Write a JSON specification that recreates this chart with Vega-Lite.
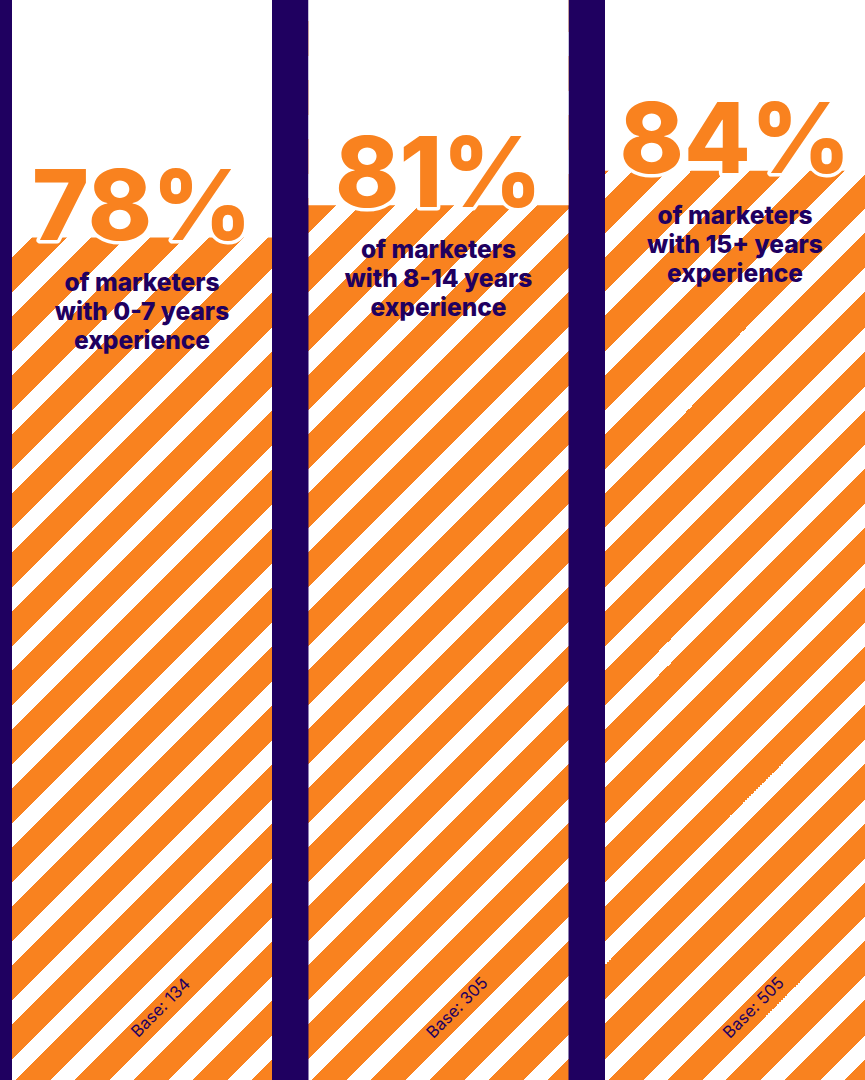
{
  "$schema": "https://vega.github.io/schema/vega-lite/v6.json",
  "width": 865,
  "height": 1080,
  "padding": 0,
  "autosize": "none",
  "background": "#1F0060",
  "config": {"view": {"stroke": null}},
  "data": {
    "values": [
      {"group": "0-7", "value": 78, "label": "78%", "sub": ["of marketers", "with 0-7 years", "experience"], "base": "Base: 134"},
      {"group": "8-14", "value": 81, "label": "81%", "sub": ["of marketers", "with 8-14 years", "experience"], "base": "Base: 305"},
      {"group": "15+", "value": 84.2, "label": "84%", "sub": ["of marketers", "with 15+ years", "experience"], "base": "Base: 505"}
    ]
  },
  "encoding": {
    "x": {
      "field": "group", "type": "nominal", "sort": null, "axis": null,
      "scale": {"paddingInner": 0.1231, "paddingOuter": 0.02024, "align": 1, "round": false}
    }
  },
  "layer": [
    {
      "mark": {
        "type": "bar",
        "fill": {
          "gradient": "linear",
          "x1": -0.011538, "y1": 0, "x2": 0.274378, "y2": 1.18765,
          "stops": [
            {"offset": 0, "color": "#FFFFFF"}, {"offset": 0.017686, "color": "#FFFFFF"}, {"offset": 0.017686, "color": "#F9821F"}, {"offset": 0.043478, "color": "#F9821F"},
            {"offset": 0.043478, "color": "#FFFFFF"}, {"offset": 0.061164, "color": "#FFFFFF"}, {"offset": 0.061164, "color": "#F9821F"}, {"offset": 0.086957, "color": "#F9821F"},
            {"offset": 0.086957, "color": "#FFFFFF"}, {"offset": 0.104643, "color": "#FFFFFF"}, {"offset": 0.104643, "color": "#F9821F"}, {"offset": 0.130435, "color": "#F9821F"},
            {"offset": 0.130435, "color": "#FFFFFF"}, {"offset": 0.148121, "color": "#FFFFFF"}, {"offset": 0.148121, "color": "#F9821F"}, {"offset": 0.173913, "color": "#F9821F"},
            {"offset": 0.173913, "color": "#FFFFFF"}, {"offset": 0.191599, "color": "#FFFFFF"}, {"offset": 0.191599, "color": "#F9821F"}, {"offset": 0.217391, "color": "#F9821F"},
            {"offset": 0.217391, "color": "#FFFFFF"}, {"offset": 0.235077, "color": "#FFFFFF"}, {"offset": 0.235077, "color": "#F9821F"}, {"offset": 0.26087, "color": "#F9821F"},
            {"offset": 0.26087, "color": "#FFFFFF"}, {"offset": 0.278556, "color": "#FFFFFF"}, {"offset": 0.278556, "color": "#F9821F"}, {"offset": 0.304348, "color": "#F9821F"},
            {"offset": 0.304348, "color": "#FFFFFF"}, {"offset": 0.322034, "color": "#FFFFFF"}, {"offset": 0.322034, "color": "#F9821F"}, {"offset": 0.347826, "color": "#F9821F"},
            {"offset": 0.347826, "color": "#FFFFFF"}, {"offset": 0.365512, "color": "#FFFFFF"}, {"offset": 0.365512, "color": "#F9821F"}, {"offset": 0.391304, "color": "#F9821F"},
            {"offset": 0.391304, "color": "#FFFFFF"}, {"offset": 0.40899, "color": "#FFFFFF"}, {"offset": 0.40899, "color": "#F9821F"}, {"offset": 0.434783, "color": "#F9821F"},
            {"offset": 0.434783, "color": "#FFFFFF"}, {"offset": 0.452469, "color": "#FFFFFF"}, {"offset": 0.452469, "color": "#F9821F"}, {"offset": 0.478261, "color": "#F9821F"},
            {"offset": 0.478261, "color": "#FFFFFF"}, {"offset": 0.495947, "color": "#FFFFFF"}, {"offset": 0.495947, "color": "#F9821F"}, {"offset": 0.521739, "color": "#F9821F"},
            {"offset": 0.521739, "color": "#FFFFFF"}, {"offset": 0.539425, "color": "#FFFFFF"}, {"offset": 0.539425, "color": "#F9821F"}, {"offset": 0.565217, "color": "#F9821F"},
            {"offset": 0.565217, "color": "#FFFFFF"}, {"offset": 0.582903, "color": "#FFFFFF"}, {"offset": 0.582903, "color": "#F9821F"}, {"offset": 0.608696, "color": "#F9821F"},
            {"offset": 0.608696, "color": "#FFFFFF"}, {"offset": 0.626382, "color": "#FFFFFF"}, {"offset": 0.626382, "color": "#F9821F"}, {"offset": 0.652174, "color": "#F9821F"},
            {"offset": 0.652174, "color": "#FFFFFF"}, {"offset": 0.66986, "color": "#FFFFFF"}, {"offset": 0.66986, "color": "#F9821F"}, {"offset": 0.695652, "color": "#F9821F"},
            {"offset": 0.695652, "color": "#FFFFFF"}, {"offset": 0.713338, "color": "#FFFFFF"}, {"offset": 0.713338, "color": "#F9821F"}, {"offset": 0.73913, "color": "#F9821F"},
            {"offset": 0.73913, "color": "#FFFFFF"}, {"offset": 0.756816, "color": "#FFFFFF"}, {"offset": 0.756816, "color": "#F9821F"}, {"offset": 0.782609, "color": "#F9821F"},
            {"offset": 0.782609, "color": "#FFFFFF"}, {"offset": 0.800295, "color": "#FFFFFF"}, {"offset": 0.800295, "color": "#F9821F"}, {"offset": 0.826087, "color": "#F9821F"},
            {"offset": 0.826087, "color": "#FFFFFF"}, {"offset": 0.843773, "color": "#FFFFFF"}, {"offset": 0.843773, "color": "#F9821F"}, {"offset": 0.869565, "color": "#F9821F"},
            {"offset": 0.869565, "color": "#FFFFFF"}, {"offset": 0.887251, "color": "#FFFFFF"}, {"offset": 0.887251, "color": "#F9821F"}, {"offset": 0.913043, "color": "#F9821F"},
            {"offset": 0.913043, "color": "#FFFFFF"}, {"offset": 0.930729, "color": "#FFFFFF"}, {"offset": 0.930729, "color": "#F9821F"}, {"offset": 0.956522, "color": "#F9821F"},
            {"offset": 0.956522, "color": "#FFFFFF"}, {"offset": 0.974208, "color": "#FFFFFF"}, {"offset": 0.974208, "color": "#F9821F"}, {"offset": 1, "color": "#F9821F"}
          ]
        }
      },
      "encoding": {
        "y": {"datum": 100, "type": "quantitative", "axis": null, "scale": {"domain": [0, 100], "nice": false}},
        "y2": {"datum": 0}
      }
    },
    {
      "mark": {"type": "bar", "fill": "#FFFFFF"},
      "encoding": {
        "y": {"field": "value", "type": "quantitative"},
        "y2": {"datum": 100}
      }
    },
    {
      "mark": {"type": "text", "font": "Inter", "fontWeight": 800, "fontSize": 97, "align": "center", "baseline": "alphabetic", "dy": 2, "stroke": "#FFFFFF", "strokeWidth": 7, "strokeJoin": "round", "fill": "#FFFFFF"},
      "encoding": {
        "y": {"field": "value", "type": "quantitative"},
        "text": {"field": "label"}
      }
    },
    {
      "mark": {"type": "text", "font": "Inter", "fontWeight": 800, "fontSize": 97, "align": "center", "baseline": "alphabetic", "dy": 2, "fill": "#F9821F"},
      "encoding": {
        "y": {"field": "value", "type": "quantitative"},
        "text": {"field": "label"}
      }
    },
    {
      "mark": {"type": "text", "font": "Inter", "fontWeight": 800, "fontSize": 24.5, "lineHeight": 29, "align": "center", "baseline": "alphabetic", "dy": 53, "fill": "#1F0060"},
      "encoding": {
        "y": {"field": "value", "type": "quantitative"},
        "text": {"field": "sub"}
      }
    },
    {
      "mark": {"type": "text", "font": "Inter", "fontSize": 16.5, "angle": -45, "align": "center", "baseline": "middle", "xOffset": 19, "yOffset": -72, "fill": "#1F0060"},
      "encoding": {
        "y": {"datum": 0, "type": "quantitative"},
        "text": {"field": "base"}
      }
    }
  ]
}
